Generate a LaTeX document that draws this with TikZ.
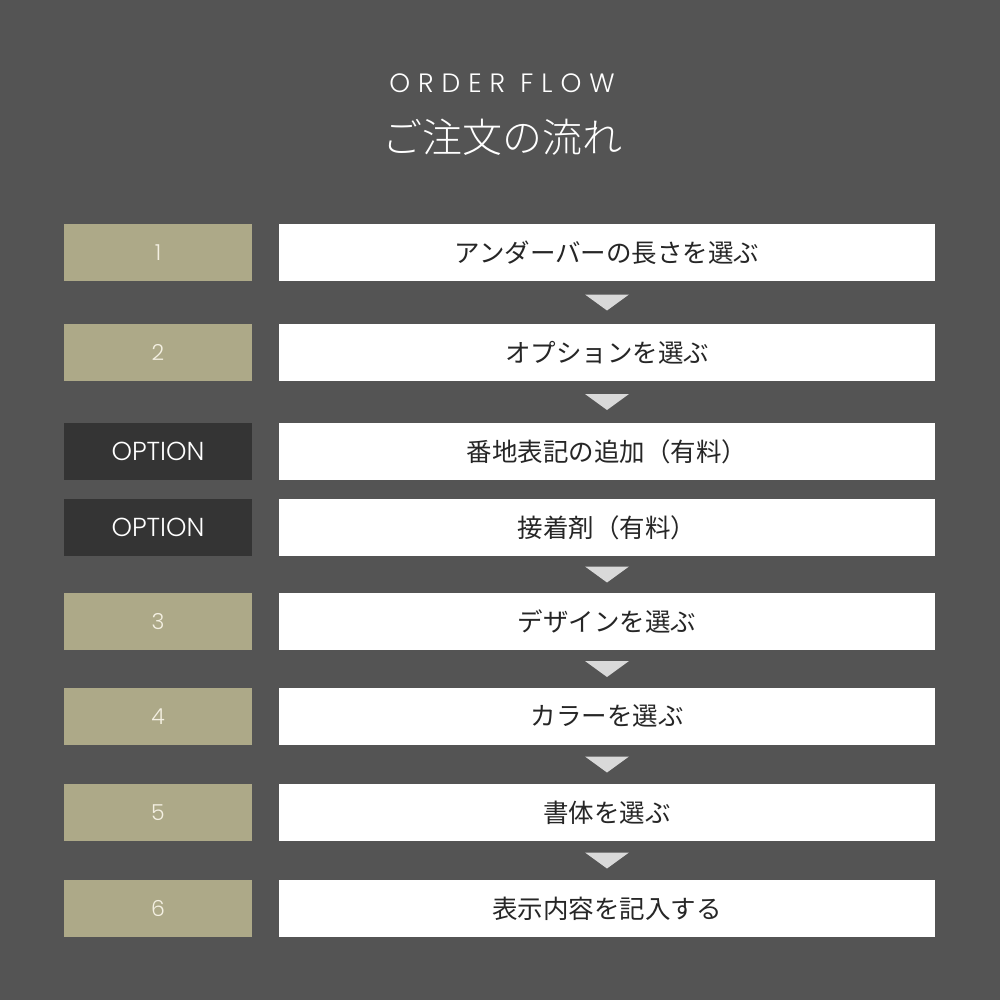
\documentclass[tikz,border=0pt]{standalone}
\usepackage{fontspec}
\newfontfamily\jp{Noto Sans CJK JP}
\newfontfamily\jplight{Noto Sans CJK JP Light}
\newfontfamily\latinlight{Poppins Light}
\newfontfamily\titlefont[LetterSpace=30]{Poppins Light}
\usetikzlibrary{calc}
\definecolor{bg}{RGB}{84,84,84}
\definecolor{khaki}{RGB}{173,169,136}
\definecolor{optbox}{RGB}{52,52,52}
\definecolor{tri}{RGB}{217,217,217}
\definecolor{numcol}{RGB}{244,240,226}
\tikzset{
  lbox/.style={fill=khaki, minimum width=188pt, minimum height=57pt, inner sep=0pt, text=numcol, font=\latinlight\fontsize{22}{22}\selectfont},
  obox/.style={fill=optbox, minimum width=188pt, minimum height=57pt, inner sep=0pt, text=white, font=\latinlight\fontsize{26}{26}\selectfont},
  rbox/.style={fill=white, minimum width=656pt, minimum height=57pt, inner sep=0pt, text=black!85, font=\jp\fontsize{25.5}{25.5}\selectfont},
  downtri/.style={fill=tri},
}
\begin{document}
\begin{tikzpicture}[x=1pt,y=-1pt]
\fill[bg] (0,0) rectangle (1000,1000);
\useasboundingbox (0,0) rectangle (1000,1000);
\node[text=white, font=\titlefont\fontsize{26.5}{26.5}\selectfont] (t1) at (502,83) {ORDER FLOW};
\node[text=white, font=\jplight\fontsize{40}{40}\selectfont] (t2) at (502,137) {ご注文の流れ};
% rows
\node[lbox] (l1) at (158,252.5) {1};
\node[rbox] (r1) at (607,252.5) {アンダーバーの長さを選ぶ};
\node[lbox] (l2) at (158,352.5) {2};
\node[rbox] (r2) at (607,352.5) {オプションを選ぶ};
\node[obox] (lo1) at (158,451.5) {OPTION};
\node[rbox] (ro1) at (607,451.5) {番地表記の追加（有料）};
\node[obox] (lo2) at (158,527.5) {OPTION};
\node[rbox] (ro2) at (607,527.5) {接着剤（有料）};
\node[lbox] (l3) at (158,621.5) {3};
\node[rbox] (r3) at (607,621.5) {デザインを選ぶ};
\node[lbox] (l4) at (158,716.5) {4};
\node[rbox] (r4) at (607,716.5) {カラーを選ぶ};
\node[lbox] (l5) at (158,812.5) {5};
\node[rbox] (r5) at (607,812.5) {書体を選ぶ};
\node[lbox] (l6) at (158,908.5) {6};
\node[rbox] (r6) at (607,908.5) {表示内容を記入する};
% arrows
\foreach \a/\b in {r1/r2, r2/ro1, ro2/r3, r3/r4, r4/r5, r5/r6}{
  \coordinate (m) at ($(\a.south)!0.5!(\b.north)$);
  \fill[downtri] ($(m)+(-22,-8)$) -- ($(m)+(22,-8)$) -- ($(m)+(0,8)$) -- cycle;
}
\end{tikzpicture}
\end{document}
